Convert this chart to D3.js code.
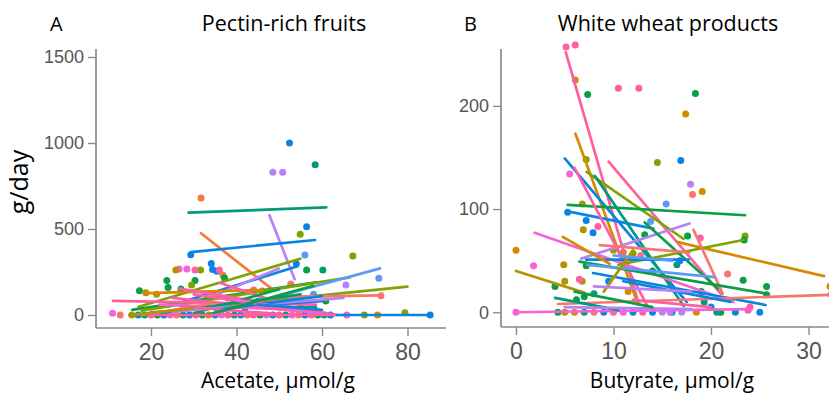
<!DOCTYPE html>
<html>
<head>
<meta charset="utf-8">
<script src="https://cdn.jsdelivr.net/npm/d3@7"></script>
<style>
  html, body { margin: 0; padding: 0; background: #fff; }
  svg { display: block; }
  .tick text { fill: #555; font-family: "Liberation Sans", Arial, sans-serif; }
  .title { font-family: "Open Sans", sans-serif; fill: #000; }
</style>
</head>
<body>
<svg id="chart" width="829" height="393"></svg>
<script>
// Colour groups (one per subject family)
const palette = ["#0A9E45", "#009B78", "#0A84E3", "#5B9BF5", "#F57A3A", "#F8766D",
                 "#D58A00", "#7FA300", "#B39400", "#FF5FA0", "#F364D6", "#B682F5"];

// Panel A – Pectin-rich fruits vs acetate
const ticksAx = [20, 40, 60, 80];
const ticksAy = [0, 500, 1000, 1500];
// per-subject trend lines: [x1, y1, x2, y2, group]
const linesA = [
  [28.8, 595, 61.0, 626, 1], [47.7, 580, 53.6, 208, 11], [31.7, 475, 48.6, 145, 4],
  [29.3, 366, 58.4, 436, 2], [17.1, 48, 54.9, 327, 7], [23.7, 48, 54.1, 282, 2],
  [31.6, 80, 49.9, 270, 11], [15.6, 30, 58.6, 190, 0], [17.8, 25, 66.5, 219, 7],
  [35.3, 10, 73.6, 271, 3], [25.6, 29, 80.0, 165, 7], [18.8, 127, 46.0, 145, 6],
  [50.0, 105, 74.0, 114, 5], [11.1, 82, 58.6, 60, 9], [26.6, 153, 63.7, 0, 9],
  [36.2, 186, 58.6, 0, 9], [58.4, 0, 85.3, 0, 2], [40.0, 45, 58.6, 45, 1],
  [20, 15, 60, 80, 2], [22, 60, 56, 30, 10], [25, 100, 55, 20, 9], [30, 10, 50, 150, 0],
  [15, 0, 40, 60, 7], [20, 5, 55, 120, 1], [25, 20, 65, 100, 11], [18, 0, 35, 70, 5],
  [35, 30, 60, 110, 2], [30, 120, 52, 40, 9], [40, 90, 60, 5, 10], [27, 50, 50, 5, 9],
  [45, 60, 60, 30, 2], [33, 0, 58, 170, 0], [16, 0, 30, 40, 8], [20, 0, 63, 0, 9]
];
// observations: [x, y, group]
const pointsA = [
  [52.4, 1000, 2], [58.4, 874, 1], [48.5, 830, 11], [50.8, 830, 11], [31.7, 680, 4],
  [56.4, 513, 2], [54.9, 469, 7], [29.3, 351, 2], [67.2, 343, 7], [56.0, 349, 3],
  [34.1, 300, 2], [34.4, 265, 2], [35.4, 255, 2], [26.6, 267, 10], [28.4, 267, 10],
  [25.8, 262, 8], [31.6, 262, 7], [30.3, 262, 9], [23.7, 200, 0], [30.3, 200, 0],
  [56.4, 262, 0], [60.2, 262, 1], [54.0, 298, 2], [36.0, 262, 9], [73.3, 213, 3],
  [65.6, 174, 11], [27.0, 151, 1], [17.3, 141, 0], [18.8, 130, 8], [21.3, 120, 8],
  [60.9, 81, 0], [73.8, 112, 5], [79.4, 13, 7], [24.0, 160, 0], [29.5, 174, 7],
  [36.8, 233, 4], [37.2, 215, 0], [52.7, 180, 5], [45, 80, 2], [48, 60, 3], [42, 40, 1],
  [38, 100, 9], [33, 90, 11], [46, 140, 6], [44, 145, 9], [58, 120, 3], [55, 45, 1],
  [11.0, 10, 10], [12.8, 0, 5], [15.5, 0, 8], [17, 0, 2], [18.5, 0, 1], [20, 0, 9],
  [21.5, 0, 0], [23, 0, 2], [24.5, 0, 10], [26, 0, 5], [27.5, 0, 1], [29, 0, 2],
  [30.5, 0, 9], [32, 0, 0], [33.5, 0, 6], [35, 0, 2], [36.5, 0, 10], [38, 0, 9],
  [39.5, 0, 1], [41, 0, 2], [42.5, 0, 5], [44, 0, 9], [45.5, 0, 0], [47, 0, 11],
  [48.5, 0, 2], [50, 0, 9], [51.5, 0, 1], [53, 0, 10], [54.5, 0, 5], [56, 0, 2],
  [57.5, 0, 9], [59, 0, 0], [60.5, 0, 1], [62, 0, 2], [65.8, 0, 10], [69.9, 0, 7],
  [73.0, 0, 6], [85.3, 0, 2]
];

// Panel B – White wheat products vs butyrate
const ticksBx = [0, 10, 20, 30];
const ticksBy = [0, 100, 200];
const linesB = [
  [5.1, 252, 12.6, 8, 9], [9.5, 146, 21.0, 18, 9], [6.1, 173, 12.5, 8, 6],
  [5.0, 149, 17.5, 10, 2], [7.25, 136, 17.2, 71, 7], [5.3, 104, 23.5, 94, 0],
  [5.7, 97, 14.1, 81, 2], [6.0, 140, 13.7, 2, 9], [8.1, 132, 17.2, 6, 1],
  [1.9, 77, 22.3, 10, 10], [6.7, 52, 17.8, 86, 11], [16.6, 68, 31.6, 35, 6],
  [10.5, 46, 23.3, 70, 7], [13.2, 87, 20.7, 23, 0], [18.2, 80, 21.2, 18, 5],
  [8.6, 65, 17.8, 58, 5], [7.2, 51, 17.7, 51, 2], [6.5, 49, 25.7, 18, 0],
  [7.3, 46, 20.4, 34, 3], [7.9, 38, 25.6, 7, 2], [0, 40, 7, 19, 8],
  [4.3, 8, 32.3, 17, 5], [0, 0, 24.2, 3, 10], [4, 14, 10.5, 2, 1], [9, 20, 12, 60, 8],
  [4.8, 73, 9.6, 47, 6], [11, 30, 22, 10, 2], [8, 25, 18, 20, 11], [12, 12, 20, 5, 9],
  [5, 5, 18, 3, 11], [6, 20, 14, 5, 0], [10, 55, 16, 50, 3]
];
const pointsB = [
  [5.13, 257, 9], [6.08, 259, 9], [6.08, 225, 6], [7.35, 211, 0], [10.5, 217, 9],
  [12.6, 217, 9], [18.4, 212, 0], [17.4, 192, 6], [14.5, 145, 7], [16.9, 147, 2],
  [7.2, 148, 7], [5.5, 134, 10], [17.9, 124, 11], [18.1, 114, 5], [19.1, 117, 6],
  [15.4, 105, 3], [6.8, 105, 8], [5.3, 97, 2], [7.2, 89, 2], [7.9, 77, 2],
  [6.9, 80, 8], [8.4, 83, 9], [17.6, 74, 0], [18.9, 72, 9], [23.5, 74, 7],
  [23.4, 70, 0], [0, 60, 6], [1.8, 45, 10], [4.9, 46, 8], [5.0, 30, 8], [4.0, 25, 0],
  [16.5, 46, 1], [21.7, 37, 5], [23.3, 31, 0], [25.7, 25, 0], [25.7, 17, 1],
  [32.2, 25, 6], [32.3, 17, 5], [10.0, 60, 8], [11.0, 58, 8], [12.0, 57, 7],
  [13.2, 75, 0], [9.5, 30, 2], [11.5, 20, 6], [14.0, 40, 1], [7.0, 15, 0],
  [8.0, 18, 1], [6.2, 12, 0], [19.0, 20, 0], [19.3, 10, 1], [20, 5, 2], [13.8, 88, 3],
  [16.8, 50, 2], [7.2, 45, 0], [6.8, 30, 8], [12.8, 55, 5], [6.5, 32, 9],
  [21, 0, 0], [22.5, 0, 2], [25, 0, 2], [18.5, 0, 6], [17, 0, 11], [15, 0, 11],
  [14, 0, 2], [13, 0, 9], [12, 0, 2], [11, 0, 10], [10, 0, 9], [9, 0, 2], [8, 0, 5],
  [7, 0, 1], [6, 0, 6], [5, 0, 8], [4.3, 0, 0], [0, 0, 10], [23.8, 2, 9], [16, 0, 2],
  [24, 5, 9], [20.6, 0, 1], [15.8, 0, 11]
];

const svg = d3.select("#chart");

function panel(cfg) {
  const x = d3.scaleLinear().domain(cfg.xDomain).range(cfg.xRange);
  const y = d3.scaleLinear().domain(cfg.yDomain).range(cfg.yRange);
  const g = svg.append("g");

  // y axis
  const ya = g.append("g").attr("transform", `translate(${cfg.xRange[0]},0)`)
    .call(d3.axisLeft(y).tickValues(cfg.yTicks).tickFormat(d3.format("d"))
      .tickSize(8).tickPadding(4));
  ya.selectAll("text").style("font-size", "18px");
  // x axis
  const xa = g.append("g").attr("transform", `translate(0,${cfg.yRange[0]})`)
    .call(d3.axisBottom(x).tickValues(cfg.xTicks).tickSize(8).tickPadding(8));
  xa.selectAll("text").style("font-size", "23px");
  [ya, xa].forEach(a => {
    a.select(".domain").attr("stroke", "#8a8a8a").attr("stroke-width", 1.7);
    a.selectAll(".tick line").attr("stroke", "#8a8a8a").attr("stroke-width", 1.4);
  });
  ya.select(".domain").attr("d", `M0,${cfg.yRange[0]}V${cfg.yRange[1]}`);
  xa.select(".domain").attr("d", `M${cfg.xRange[0]},0H${cfg.xRange[1]}`);

  const plot = g.append("g");
  plot.selectAll("circle").data(cfg.points).join("circle")
    .attr("cx", d => x(d[0])).attr("cy", d => y(d[1])).attr("r", 3.5)
    .attr("fill", d => palette[d[2]]);
  plot.selectAll("line").data(cfg.lines).join("line")
    .attr("x1", d => x(d[0])).attr("y1", d => y(d[1]))
    .attr("x2", d => x(d[2])).attr("y2", d => y(d[3]))
    .attr("stroke", d => palette[d[4]]).attr("stroke-width", 2.7)
    .attr("stroke-linecap", "round");

  g.append("text").attr("class", "title").attr("x", cfg.letterX).attr("y", 31)
    .style("font-size", "20px").text(cfg.letter);
  g.append("text").attr("class", "title").attr("x", cfg.titleX).attr("y", 31)
    .attr("text-anchor", "middle").style("font-size", "21.5px").text(cfg.title);
  g.append("text").attr("class", "title").attr("x", cfg.xLabelX).attr("y", 388)
    .attr("text-anchor", "middle").style("font-size", "21px").text(cfg.xLabel);
}

panel({
  xDomain: [20 - 55 / 4.275, 20 + 295 / 4.275], xRange: [96, 446],
  yDomain: [-13 / 0.172, 1500 + 8 / 0.172], yRange: [328, 49],
  xTicks: ticksAx, yTicks: ticksAy, points: pointsA, lines: linesA,
  letter: "A", letterX: 50, title: "Pectin-rich fruits", titleX: 284,
  xLabel: "Acetate, μmol/g", xLabelX: 278
});
panel({
  xDomain: [-15 / 9.75, 328 / 9.75 - 15 / 9.75], xRange: [501, 829],
  yDomain: [-14 / 0.98, 264 / 0.98 - 14 / 0.98], yRange: [327, 49],
  xTicks: ticksBx, yTicks: ticksBy, points: pointsB, lines: linesB,
  letter: "B", letterX: 464, title: "White wheat products", titleX: 668,
  xLabel: "Butyrate, μmol/g", xLabelX: 672
});

// shared y label
svg.append("text").attr("class", "title")
  .attr("transform", "translate(28,182) rotate(-90)")
  .attr("text-anchor", "middle").style("font-size", "25px").text("g/day");
</script>
</body>
</html>
